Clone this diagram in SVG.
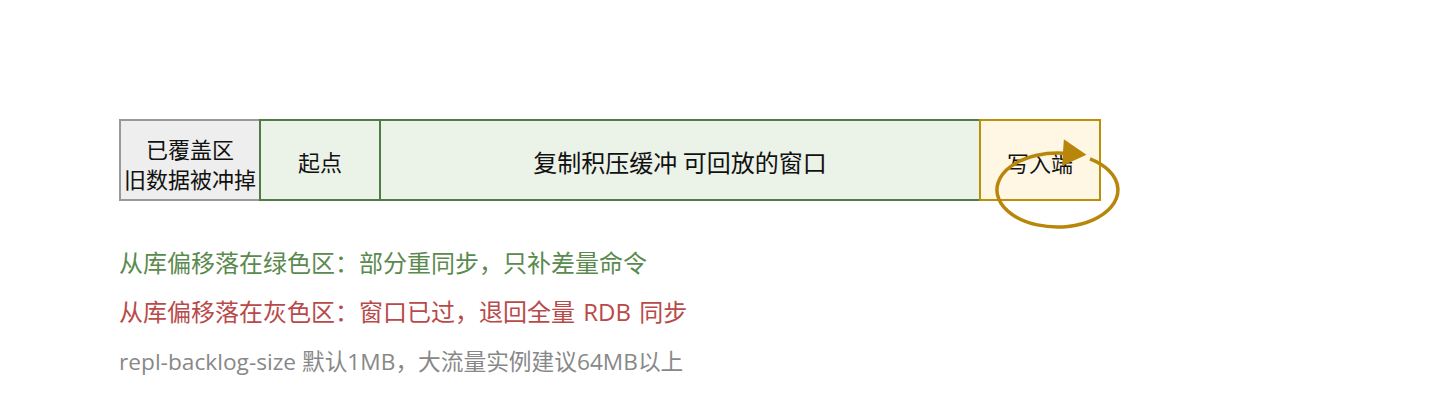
<svg xmlns="http://www.w3.org/2000/svg" width="1440" height="400" viewBox="0 0 1440 400">
  <defs>
    <style>
      .t { font-family: "Noto Sans CJK SC", "Liberation Sans", sans-serif; dominant-baseline: central; text-anchor: middle; fill: #111111; }
      .note { font-family: "Open Sans", "Noto Sans CJK SC", sans-serif; dominant-baseline: central; text-anchor: start; }
      .gray { fill: #eeeeee; stroke: #999999; stroke-width: 2; }
      .green { fill: #ebf2e8; stroke: #4e7d43; stroke-width: 2; }
      .yellow { fill: #fff7e3; stroke: #b8900a; stroke-width: 2; }
    </style>
    <marker id="arrow" markerUnits="userSpaceOnUse" markerWidth="30" markerHeight="30" viewBox="0 -14 24 28" refX="1" refY="0" orient="auto">
      <path d="M0,-13 L22,0 L0,12 Z" fill="#b8860b"/>
    </marker>
  </defs>
  <rect width="1440" height="400" fill="#ffffff"/>

  <g id="node-overwritten">
    <rect class="gray" x="120" y="120" width="140" height="80"/>
    <text class="t" x="190" y="148" font-size="22">已覆盖区</text>
    <text class="t" x="190" y="178" font-size="22">旧数据被冲掉</text>
  </g>
  <g id="node-start">
    <rect class="green" x="260" y="120" width="120" height="80"/>
    <text class="t" x="320" y="161" font-size="22">起点</text>
  </g>
  <g id="node-window">
    <rect class="green" x="380" y="120" width="600" height="80"/>
    <text class="t" x="680" y="161" font-size="24">复制积压缓冲 可回放的窗口</text>
  </g>
  <g id="node-write">
    <rect class="yellow" x="980" y="120" width="120" height="80"/>
    <text class="t" x="1040" y="162" font-size="22">写入端</text>
  </g>

  <g id="connectors">
    <path d="M1090,158.8 A60.5,37 0 1 1 1064,153.2" fill="none" stroke="#b8860b" stroke-width="3.5" marker-end="url(#arrow)"/>
  </g>

  <g id="notes">
    <text class="note" x="119" y="262" font-size="24" fill="#5a8a4e">从库偏移落在绿色区：部分重同步，只补差量命令</text>
    <text class="note" x="119" y="311" font-size="24" fill="#b84a4a" word-spacing="2">从库偏移落在灰色区：窗口已过，退回全量 RDB 同步</text>
    <text class="note" x="119" y="361" font-size="22.7" fill="#888888">repl-backlog-size 默认1MB，大流量实例建议64MB以上</text>
  </g>
</svg>
